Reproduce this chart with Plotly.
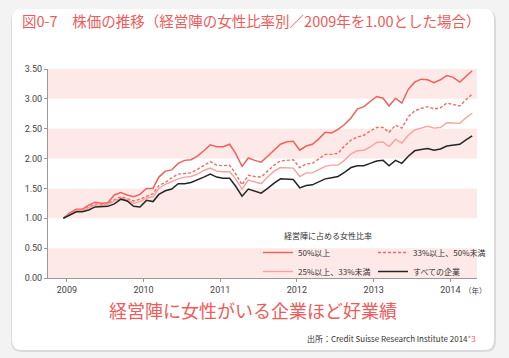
import plotly.graph_objects as go
import pandas as pd

# ---- data ----
months = pd.date_range("2008-12-15", periods=65, freq=pd.DateOffset(months=1))

over50 = [1.00,1.09,1.15,1.15,1.22,1.27,1.25,1.26,1.39,1.43,
          1.39,1.36,1.40,1.50,1.50,1.69,1.79,1.81,1.92,1.97,
          1.98,2.04,2.13,2.23,2.20,2.20,2.24,2.09,1.87,2.01,
          1.97,1.94,2.04,2.15,2.24,2.28,2.29,2.14,2.21,2.24,
          2.33,2.44,2.43,2.49,2.57,2.68,2.83,2.87,2.96,3.04,
          3.01,2.88,3.01,2.93,3.16,3.28,3.33,3.32,3.27,3.32,
          3.39,3.36,3.28,3.37,3.47]
r33_50 = [1.00,1.07,1.14,1.14,1.19,1.24,1.23,1.24,1.31,1.36,
          1.33,1.29,1.32,1.36,1.41,1.55,1.60,1.68,1.74,1.75,
          1.76,1.82,1.89,1.95,1.89,1.88,1.89,1.75,1.56,1.72,
          1.70,1.69,1.79,1.89,1.96,1.97,1.98,1.85,1.91,1.92,
          1.99,2.07,2.07,2.09,2.21,2.31,2.36,2.39,2.46,2.52,
          2.52,2.44,2.56,2.51,2.70,2.80,2.84,2.87,2.83,2.85,
          2.93,2.91,2.88,2.98,3.08]
r25_33 = [1.00,1.07,1.13,1.13,1.17,1.22,1.22,1.23,1.29,1.34,
          1.31,1.25,1.28,1.34,1.36,1.50,1.57,1.62,1.66,1.69,
          1.70,1.74,1.80,1.84,1.79,1.78,1.78,1.66,1.49,1.64,
          1.61,1.58,1.69,1.79,1.85,1.85,1.84,1.70,1.76,1.76,
          1.82,1.87,1.89,1.89,1.97,2.08,2.13,2.14,2.19,2.27,
          2.28,2.20,2.32,2.26,2.39,2.48,2.51,2.54,2.51,2.52,
          2.60,2.60,2.59,2.68,2.76]
all_cos = [1.00,1.05,1.11,1.11,1.14,1.19,1.20,1.20,1.24,1.32,
           1.29,1.20,1.19,1.30,1.28,1.40,1.46,1.49,1.58,1.58,
           1.60,1.64,1.69,1.74,1.69,1.67,1.67,1.54,1.37,1.49,
           1.46,1.42,1.50,1.59,1.66,1.66,1.65,1.51,1.55,1.56,
           1.61,1.66,1.68,1.70,1.77,1.85,1.88,1.88,1.92,1.96,
           1.97,1.88,1.97,1.92,2.04,2.13,2.15,2.17,2.14,2.16,
           2.21,2.23,2.24,2.31,2.38]

series_names = ["50%以上", "33%以上、50%未満", "25%以上、33%未満", "すべての企業"]
legend_title = "経営陣に占める女性比率"
year_ticks = ["2009-01-01", "2010-01-01", "2011-01-01", "2012-01-01", "2013-01-01", "2014-01-01"]
year_labels = ["2009", "2010", "2011", "2012", "2013", "2014"]
y_ticks = [0, 0.5, 1.0, 1.5, 2.0, 2.5, 3.0, 3.5]
bands = [(0, 0.5), (1.0, 1.5), (2.0, 2.5), (3.0, 3.5)]

# ---- layout geometry ----
W, H = 509, 358
L, R, T, B = 48, 32, 69, 80
PW, PH = W - L - R, H - T - B
RED = "#EE5B5B"
FONT = "Noto Sans CJK JP"


def px(x, y):
    return (x - L) / PW, (H - B - y) / PH


def rounded_path(x0, y0, x1, y1, r):
    def P(x, y):
        a, b = px(x, y)
        return f"{a:.5f},{b:.5f}"
    return (f"M{P(x0 + r, y0)} L{P(x1 - r, y0)} Q{P(x1, y0)} {P(x1, y0 + r)} "
            f"L{P(x1, y1 - r)} Q{P(x1, y1)} {P(x1 - r, y1)} L{P(x0 + r, y1)} "
            f"Q{P(x0, y1)} {P(x0, y1 - r)} L{P(x0, y0 + r)} Q{P(x0, y0)} {P(x0 + r, y0)} Z")


fig = go.Figure()
styles = [
    dict(color="#F0605C", width=1.5),
    dict(color="#F06A66", width=1.4, dash="3px,2px"),
    dict(color="#F7A29E", width=1.4),
    dict(color="#262626", width=1.5),
]
legend_ids = ["legend", "legend2", "legend", "legend2"]
for name, vals, st, lg in zip(series_names, [over50, r33_50, r25_33, all_cos], styles, legend_ids):
    fig.add_trace(go.Scatter(x=months, y=vals, mode="lines", name=name, line=st,
                             legend=lg, hoverinfo="skip"))

shapes = []
shapes.append(dict(type="path", xref="paper", yref="paper", layer="below",
                   path=rounded_path(11, 10, 496, 352, 11),
                   fillcolor="rgba(0,0,0,0.10)", line=dict(width=0)))
shapes.append(dict(type="path", xref="paper", yref="paper", layer="below",
                   path=rounded_path(12, 9, 494, 350, 10),
                   fillcolor="white", line=dict(width=0)))
for lo, hi in bands:
    shapes.append(dict(type="rect", xref="x domain", yref="y", x0=0, x1=1, y0=lo, y1=hi,
                       fillcolor="#FDEAE8", line=dict(width=0), layer="below"))

annotations = []
tx, ty = px(20, 21)
annotations.append(dict(xref="paper", yref="paper", x=tx, y=ty, xanchor="left", yanchor="middle",
                        showarrow=False,
                        text="図0-7　株価の推移（経営陣の女性比率別／2009年を1.00とした場合）",
                        font=dict(family=FONT, size=14.5, color=RED)))
sx, sy = px(253, 310)
annotations.append(dict(xref="paper", yref="paper", x=sx, y=sy, xanchor="center", yanchor="middle",
                        showarrow=False, text="経営陣に女性がいる企業ほど好業績",
                        font=dict(family=FONT, size=18, color=RED)))
cx, cy = px(478, 338)
annotations.append(dict(xref="paper", yref="paper", x=cx, y=cy, xanchor="right", yanchor="middle",
                        showarrow=False,
                        text=f"出所：Credit Suisse Research Institute 2014<span style='color:{RED}'>*3</span>",
                        font=dict(family=FONT, size=8, color="#333333")))
nx, ny = px(462, 290)
annotations.append(dict(xref="paper", yref="paper", x=nx, y=ny, xanchor="left", yanchor="middle",
                        showarrow=False, text="（年）",
                        font=dict(family=FONT, size=7.5, color="#444444")))
gx, gy = px(282, 235)
annotations.append(dict(xref="paper", yref="paper", x=gx, y=gy, xanchor="left", yanchor="middle",
                        showarrow=False, text=legend_title,
                        font=dict(family=FONT, size=8, color="#333333")))

l1x, l1y = px(258, 238)
l2x, _ = px(373, 238)
legend_common = dict(yanchor="top", xanchor="left", bgcolor="rgba(0,0,0,0)",
                     orientation="v", itemwidth=30, tracegroupgap=0,
                     font=dict(family=FONT, size=8, color="#333333"))

fig.update_layout(
    width=W, height=H,
    margin=dict(l=L, r=R, t=T, b=B, pad=0),
    paper_bgcolor="#F3F3F3",
    plot_bgcolor="rgba(0,0,0,0)",
    shapes=shapes,
    annotations=annotations,
    showlegend=True,
    legend=dict(x=l1x, y=l1y, **legend_common),
    legend2=dict(x=l2x, y=l1y, **legend_common),
    xaxis=dict(type="date", range=["2008-10-03", "2014-05-08"],
               tickvals=year_ticks, ticktext=year_labels,
               showgrid=False, zeroline=False, showline=True, linecolor="#9A9A9A", linewidth=1,
               ticks="outside", ticklen=3, tickcolor="#9A9A9A",
               tickfont=dict(family="Roboto", size=9, color="#444444")),
    yaxis=dict(range=[0, 3.5], tickvals=y_ticks, tickformat=".2f",
               showgrid=False, zeroline=False, showline=True, linecolor="#9A9A9A", linewidth=1,
               ticks="outside", ticklen=3, tickcolor="#9A9A9A",
               tickfont=dict(family="Roboto", size=9, color="#444444")),
)

fig.write_html("out.html", config={"displayModeBar": False},
               post_script="document.body.style.margin='0px';document.body.style.padding='0px';")
